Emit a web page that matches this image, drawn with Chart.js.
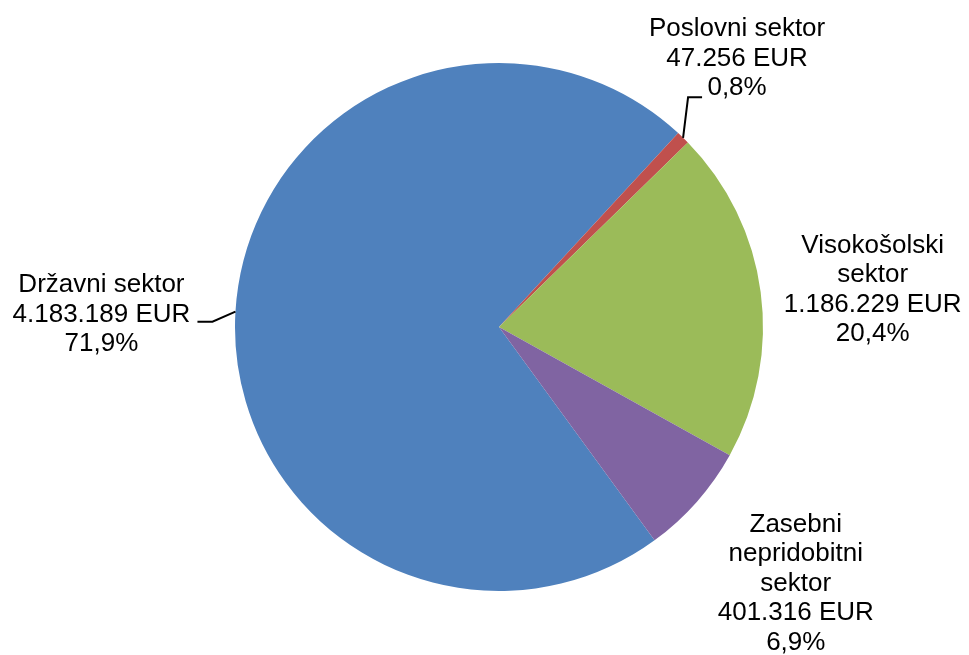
<!DOCTYPE html>
<html>
<head>
<meta charset="utf-8">
<script src="https://cdn.jsdelivr.net/npm/chart.js@4"></script>
<style>
  body { margin: 0; background: #fff; }
  #wrap { width: 969px; height: 655px; }
</style>
</head>
<body>
<div id="wrap"><canvas id="grafico"></canvas></div>
<script>
const categories = [
  ["Državni sektor"],
  ["Poslovni sektor"],
  ["Visokošolski", "sektor"],
  ["Zasebni", "nepridobitni", "sektor"]
];
const values = [4183189, 47256, 1186229, 401316];
const colors = ["#4F81BD", "#C0504D", "#9BBB59", "#8064A2"];

// label placement relative to the slice edge at its mid angle
const labelPos = [
  { dx: -134, dy: -19.5, line: [[-23, 10], [-38, 10]] },
  { dx: 54, dy: -101.5, line: [[5, -40.5], [19, -40.5]] },
  { dx: 112, dy: -39, line: null },
  { dx: 99, dy: 30, line: null }
];

function fmtEur(v) {
  return v.toString().replace(/\B(?=(\d{3})+(?!\d))/g, ".") + " EUR";
}

const total = values.reduce((a, b) => a + b, 0);

const labelPlugin = {
  id: "pieLabels",
  afterDraw(chart) {
    const ctx = chart.ctx;
    const arcs = chart.getDatasetMeta(0).data;
    ctx.save();
    ctx.font = "26px 'Liberation Sans', Arial, sans-serif";
    ctx.fillStyle = "#000";
    ctx.textAlign = "center";
    ctx.textBaseline = "alphabetic";
    ctx.strokeStyle = "#000";
    ctx.lineWidth = 2;
    arcs.forEach((arc, i) => {
      const p = arc.getProps(["x", "y", "startAngle", "endAngle", "outerRadius"], true);
      const mid = (p.startAngle + p.endAngle) / 2;
      const ax = p.x + Math.cos(mid) * p.outerRadius;
      const ay = p.y + Math.sin(mid) * p.outerRadius;
      const pos = labelPos[i];
      if (pos.line) {
        ctx.beginPath();
        ctx.moveTo(ax, ay);
        pos.line.forEach(pt => ctx.lineTo(ax + pt[0], ay + pt[1]));
        ctx.stroke();
      }
      const pct = (values[i] / total * 100).toFixed(1).replace(".", ",") + "%";
      const lines = categories[i].concat([fmtEur(values[i]), pct]);
      lines.forEach((t, k) => {
        ctx.fillText(t, ax + pos.dx, ay + pos.dy + k * 29.5);
      });
    });
    ctx.restore();
  }
};

new Chart(document.getElementById("grafico"), {
  type: "pie",
  data: {
    labels: categories.map(c => c.join(" ")),
    datasets: [{
      data: values,
      backgroundColor: colors,
      borderWidth: 0,
      hoverOffset: 0
    }]
  },
  options: {
    responsive: true,
    maintainAspectRatio: false,
    animation: false,
    rotation: 143.9,
    layout: { padding: { left: 235, right: 206, top: 63, bottom: 64 } },
    plugins: {
      legend: { display: false },
      tooltip: { enabled: false }
    }
  },
  plugins: [labelPlugin]
});
</script>
</body>
</html>
